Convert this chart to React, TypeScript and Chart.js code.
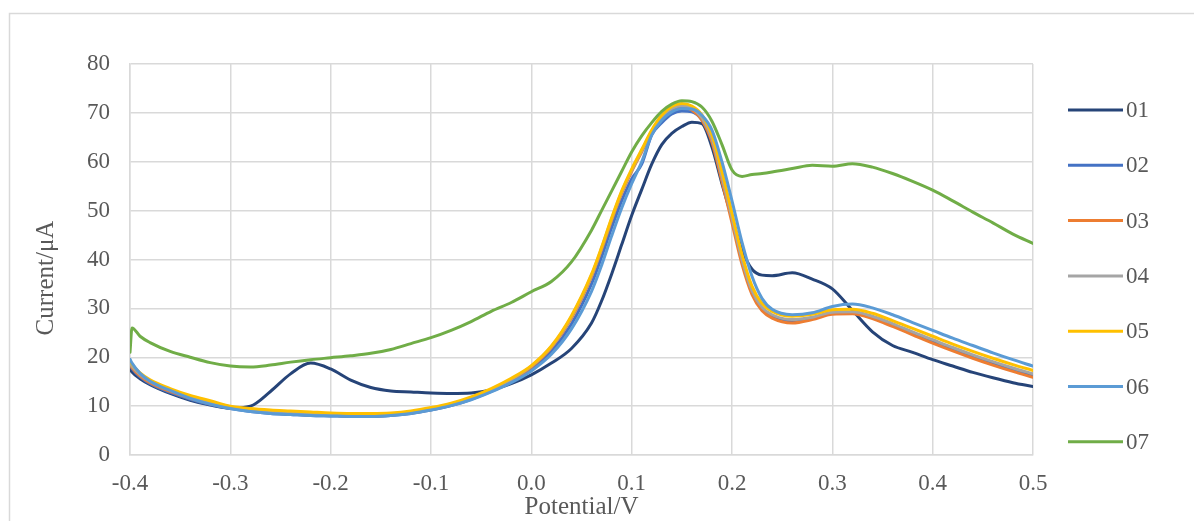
import React, { useEffect, useRef } from "react";
import { Chart, registerables } from "chart.js";

Chart.register(...registerables);

const potential = [
  -0.4, -0.398, -0.39, -0.38, -0.36, -0.34, -0.32, -0.3, -0.28, -0.26,
  -0.24, -0.22, -0.2, -0.18, -0.16, -0.14, -0.12, -0.1, -0.08, -0.06,
  -0.04, -0.02, 0.0, 0.02, 0.04, 0.06, 0.07, 0.08, 0.09, 0.1,
  0.11, 0.12, 0.13, 0.14, 0.15, 0.16, 0.17, 0.18, 0.19, 0.2,
  0.21, 0.22, 0.23, 0.24, 0.26, 0.28, 0.3, 0.32, 0.34, 0.36,
  0.38, 0.4, 0.42, 0.44, 0.46, 0.48, 0.5,
];

const s01 = [
  17.6, 17.0, 15.6, 14.4, 12.6, 11.2, 10.2, 9.6, 10.0, 13.0,
  16.6, 18.8, 17.6, 15.3, 13.8, 13.1, 12.9, 12.7, 12.6, 12.7,
  13.3, 14.6, 16.4, 18.8, 21.8, 27.0, 31.5, 37.0, 43.0, 49.0,
  54.3, 59.5, 63.5, 65.8, 67.2, 68.1, 67.8, 63.0, 55.5, 48.5,
  42.0, 38.0, 36.8, 36.7, 37.3, 36.0, 34.0, 29.6, 25.2, 22.4,
  21.0, 19.5, 18.2, 16.9, 15.8, 14.8, 14.0,
];

const s02 = [
  18.4, 17.7, 16.0, 14.6, 12.8, 11.4, 10.3, 9.5, 8.9, 8.5,
  8.3, 8.1, 8.0, 7.9, 7.9, 8.1, 8.5, 9.2, 10.1, 11.4,
  13.0, 15.0, 17.6, 21.2, 26.8, 35.0, 40.5, 46.5, 52.0, 56.5,
  59.5, 65.5, 68.0, 69.8, 70.4, 70.2, 68.6, 64.8, 57.5, 49.0,
  40.5, 33.8, 30.0, 28.4, 27.4, 27.9, 29.0, 29.1, 28.1, 26.5,
  24.8, 23.2, 21.6, 20.1, 18.7, 17.4, 16.2,
];

const s03 = [
  18.6, 17.9, 16.2, 14.8, 13.0, 11.6, 10.5, 9.7, 9.1, 8.7,
  8.4, 8.2, 8.1, 8.0, 8.0, 8.2, 8.6, 9.3, 10.2, 11.5,
  13.2, 15.3, 18.0, 22.0, 28.0, 36.5, 42.0, 48.0, 53.5, 58.0,
  62.0, 66.0, 68.8, 70.5, 71.1, 70.6, 68.5, 64.0, 56.0, 47.5,
  39.0, 32.8, 29.5, 28.0, 27.0, 27.7, 28.8, 28.9, 27.9, 26.3,
  24.6, 22.9, 21.3, 19.8, 18.4, 17.1, 15.9,
];

const s04 = [
  18.9, 18.2, 16.5, 15.1, 13.3, 11.9, 10.8, 9.9, 9.3, 8.9,
  8.6, 8.4, 8.3, 8.2, 8.2, 8.4, 8.8, 9.5, 10.4, 11.7,
  13.4, 15.5, 18.2, 22.2, 28.3, 36.8, 42.3, 48.3, 53.8, 58.3,
  62.3, 66.3, 69.2, 70.9, 71.5, 71.0, 69.0, 64.8, 57.0, 48.5,
  40.0, 33.6, 30.2, 28.7, 27.7, 28.2, 29.2, 29.3, 28.4, 26.9,
  25.2, 23.6, 22.0, 20.5, 19.1, 17.8, 16.6,
];

const s05 = [
  19.3, 18.6, 16.8, 15.4, 13.6, 12.2, 11.1, 10.0, 9.5, 9.2,
  9.0, 8.8, 8.6, 8.5, 8.5, 8.6, 9.0, 9.7, 10.6, 11.9,
  13.6, 15.7, 18.3, 22.3, 28.5, 37.0, 42.5, 48.5, 54.0, 58.5,
  62.5, 66.5, 69.5, 71.3, 71.9, 71.4, 69.6, 65.5, 58.0, 49.5,
  41.0, 34.5, 31.0, 29.4, 28.4, 28.8, 29.7, 29.8, 29.0, 27.5,
  25.9, 24.3, 22.7, 21.2, 19.8, 18.5, 17.3,
];

const s06 = [
  19.6, 18.8, 16.7, 15.1, 13.2, 11.6, 10.4, 9.5, 8.9, 8.5,
  8.3, 8.1, 8.0, 7.9, 7.9, 8.1, 8.5, 9.2, 10.1, 11.3,
  12.9, 14.8, 17.2, 20.6, 25.8, 33.5, 38.8, 44.8, 50.5, 55.5,
  60.0, 65.5, 68.5, 70.2, 70.9, 70.8, 69.5, 66.5, 60.0, 52.0,
  43.5, 36.5, 32.0, 29.8, 28.7, 29.1, 30.4, 30.9, 30.1, 28.7,
  27.1, 25.5, 23.9, 22.4, 20.9, 19.5, 18.2,
];

const s07 = [
  21.0, 26.0, 24.3, 23.0, 21.2, 20.0, 18.9, 18.2, 18.0, 18.4,
  19.0, 19.5, 19.9, 20.3, 20.8, 21.6, 22.8, 24.0, 25.5, 27.3,
  29.4, 31.2, 33.4, 35.5, 39.5, 46.0, 50.0, 54.0, 58.0, 62.0,
  65.3, 68.0, 70.3, 71.8, 72.5, 72.3, 71.2, 68.3, 63.5, 58.3,
  57.0, 57.4, 57.6, 57.9, 58.6, 59.3, 59.1, 59.6, 58.9, 57.6,
  56.0, 54.2, 52.0, 49.7, 47.5, 45.2, 43.3,
];

const seriesNames = ["01", "02", "03", "04", "05", "06", "07"];
const seriesColors = ["#264478", "#4472C4", "#ED7D31", "#A5A5A5", "#FFC000", "#5B9BD5", "#70AD47"];
const xTickValues = [-0.4, -0.3, -0.2, -0.1, 0.0, 0.1, 0.2, 0.3, 0.4, 0.5];
const yTickValues = [0, 10, 20, 30, 40, 50, 60, 70, 80];
const xTitle = "Potential/V";
const yTitle = "Current/μA";

const FONT = "'Liberation Serif', 'Times New Roman', serif";
const TEXT = "#595959";
const GRID = "#d9d9d9";

export default function App() {
  const ref = useRef<HTMLCanvasElement | null>(null);

  useEffect(() => {
    if (!ref.current) return;
    const series = [s01, s02, s03, s04, s05, s06, s07];
    const datasets = series.map((vals, i) => ({
      label: seriesNames[i],
      data: potential.map((x, j) => ({ x, y: vals[j] })),
      borderColor: seriesColors[i],
      backgroundColor: seriesColors[i],
      borderWidth: 3,
      pointRadius: 0,
      pointHoverRadius: 0,
      cubicInterpolationMode: "monotone" as const,
      borderJoinStyle: "round" as const,
      borderCapStyle: "round" as const,
      order: series.length - 1 - i,
    }));

    const decor = {
      id: "decor",
      beforeDraw(chart: any) {
        const ctx = chart.ctx;
        ctx.save();
        ctx.fillStyle = "#ffffff";
        ctx.fillRect(0, 0, chart.width, chart.height);
        ctx.strokeStyle = GRID;
        ctx.lineWidth = 1.5;
        ctx.strokeRect(9.5, 13.5, chart.width + 20, chart.height + 20);
        ctx.restore();
      },
      afterDraw(chart: any) {
        const ctx = chart.ctx;
        const area = chart.chartArea;
        ctx.save();
        ctx.fillStyle = TEXT;
        ctx.font = `25px ${FONT}`;
        ctx.textAlign = "center";
        ctx.textBaseline = "middle";
        ctx.fillText(xTitle, (area.left + area.right) / 2, 507);
        ctx.save();
        ctx.translate(46, 278);
        ctx.rotate(-Math.PI / 2);
        ctx.fillText(yTitle, 0, 0);
        ctx.restore();

        ctx.font = `23px ${FONT}`;
        ctx.textAlign = "left";
        chart.data.datasets.forEach((ds: any, i: number) => {
          const y = 110 + i * 55.3;
          ctx.strokeStyle = ds.borderColor;
          ctx.lineWidth = 3;
          ctx.beginPath();
          ctx.moveTo(1068, y);
          ctx.lineTo(1123, y);
          ctx.stroke();
          ctx.fillStyle = TEXT;
          ctx.fillText(ds.label, 1126, y + 1);
        });
        ctx.restore();
      },
    };

    const chart = new Chart(ref.current, {
      type: "line",
      data: { datasets },
      options: {
        responsive: false,
        animation: false,
        devicePixelRatio: 1,
        layout: { padding: { top: 64, right: 161, bottom: 0, left: 0 } },
        plugins: { legend: { display: false }, tooltip: { enabled: false } },
        scales: {
          x: {
            type: "linear",
            min: -0.4,
            max: 0.5,
            afterFit: (s: any) => {
              s.height = 66;
            },
            afterBuildTicks: (s: any) => {
              s.ticks = xTickValues.map((v) => ({ value: v }));
            },
            ticks: {
              autoSkip: false,
              maxRotation: 0,
              padding: 15,
              color: TEXT,
              font: { family: FONT, size: 23 },
              callback: (v: any) => {
                const n = Number(v);
                return Math.abs(n) < 1e-9 ? "0.0" : n.toFixed(1);
              },
            },
            grid: { color: GRID, lineWidth: 1.5, drawTicks: false },
            border: { color: GRID, width: 1.5 },
          },
          y: {
            type: "linear",
            min: 0,
            max: 80,
            afterFit: (s: any) => {
              s.width = 130;
            },
            afterBuildTicks: (s: any) => {
              s.ticks = yTickValues.map((v) => ({ value: v }));
            },
            ticks: {
              padding: 20,
              color: TEXT,
              font: { family: FONT, size: 23 },
              callback: (v: any) => String(v),
            },
            grid: { color: GRID, lineWidth: 1.5, drawTicks: false },
            border: { color: GRID, width: 1.5 },
          },
        },
      },
      plugins: [decor],
    } as any);

    return () => chart.destroy();
  }, []);

  return (
    <div style={{ position: "absolute", left: 0, top: 0, width: 1194, height: 521, background: "#fff" }}>
      <canvas ref={ref} width={1194} height={521} style={{ display: "block", width: 1194, height: 521 }} />
    </div>
  );
}
